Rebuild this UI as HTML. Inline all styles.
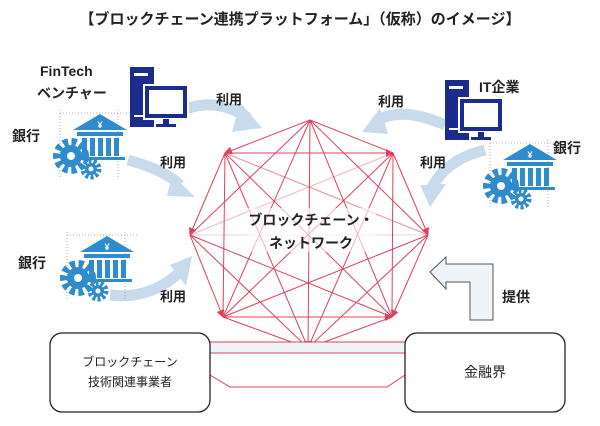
<!DOCTYPE html>
<html><head><meta charset="utf-8"><style>
body{margin:0;background:#fff;}
svg{display:block;font-family:"Liberation Sans","Noto Sans CJK JP",sans-serif;}
.b{font-weight:bold;fill:#222;}
</style></head><body>
<svg width="600" height="426" viewBox="0 0 600 426">
<defs>
<marker id="ah" markerWidth="8" markerHeight="8" refX="7" refY="4" orient="auto" markerUnits="userSpaceOnUse"><path d="M0,0 L8,4 L0,8 Z" fill="#e0405a"/></marker>
<g id="bank">
 <g stroke="#999" stroke-dasharray="1,2" stroke-width="0.8">
 <line x1="5" y1="-4" x2="5" y2="65"/><line x1="63" y1="-4" x2="63" y2="65"/><line x1="5" y1="-1" x2="75" y2="-1"/>
 </g>
 <path d="M18,16 L45,0 L72,16 Z" fill="#2f8ccc"/>
 <text x="45" y="14" font-size="9" fill="#fff" text-anchor="middle" font-weight="bold">¥</text>
 <rect x="22" y="18" width="46" height="4" fill="#2f8ccc"/>
 <rect x="27" y="24" width="5" height="18" fill="#2f8ccc"/><rect x="35" y="24" width="5" height="18" fill="#2f8ccc"/><rect x="43" y="24" width="5" height="18" fill="#2f8ccc"/><rect x="51" y="24" width="5" height="18" fill="#2f8ccc"/><rect x="59" y="24" width="5" height="18" fill="#2f8ccc"/>
 <rect x="20" y="43" width="50" height="3" fill="#2f8ccc"/>
 <circle cx="16" cy="42" r="14" fill="none" stroke="#2f8ccc" stroke-width="8" stroke-dasharray="5,3.3"/>
 <circle cx="16" cy="42" r="11" fill="#2f8ccc"/><circle cx="16" cy="42" r="4" fill="#fff"/>
 <circle cx="36" cy="55" r="8" fill="none" stroke="#2f8ccc" stroke-width="5" stroke-dasharray="3,2"/>
 <circle cx="36" cy="55" r="6" fill="#2f8ccc"/><circle cx="36" cy="55" r="2.5" fill="#fff"/>
</g>
<g id="pc">
 <rect x="0" y="0" width="24" height="60" fill="#1a2d8c"/>
 <rect x="4" y="6" width="14" height="3" fill="#fff"/>
 <rect x="4" y="48" width="10" height="2" fill="#fff"/>
 <rect x="14" y="18" width="44" height="34" fill="#1a2d8c" stroke="#fff" stroke-width="2"/>
 <rect x="19" y="23" width="34" height="24" fill="#fff"/>
 <rect x="33" y="52" width="6" height="5" fill="#1a2d8c"/><rect x="26" y="57" width="20" height="3" fill="#1a2d8c"/>
</g>
</defs>
<text x="300" y="24" text-anchor="middle" font-size="15" class="b">【ブロックチェーン連携プラットフォーム」（仮称）のイメージ】</text>

<g fill="none" stroke="#c8dbec" stroke-width="11" stroke-linecap="butt">
<path d="M178,112 Q215,95 248,118"/>
<path d="M128,160 Q165,170 180,185"/>
<path d="M110,295 Q150,300 180,272"/>
<path d="M445,125 Q400,105 375,122"/>
<path d="M485,150 Q445,160 432,188"/>
</g>
<g fill="#c8dbec">
<path d="M240,102 L262,128 L232,132 Z"/>
<path d="M172,175 L195,197 L167,196 Z"/>
<path d="M170,265 L192,256 L186,286 Z"/>
<path d="M380,108 L362,132 L388,134 Z"/>
<path d="M420,185 L430,207 L446,184 Z"/>
</g>

<use href="#pc" x="130" y="67"/>
<use href="#pc" x="445" y="80"/>
<use href="#bank" x="55" y="114"/>
<use href="#bank" x="62" y="236"/>
<use href="#bank" x="485" y="144"/>

<g stroke="#e0405a" stroke-width="1">
<line x1="310" y1="120" x2="225" y2="153" marker-end="url(#ah)"/><line x1="310" y1="120" x2="393" y2="153"/><line x1="310" y1="120" x2="190" y2="235"/><line x1="310" y1="120" x2="428" y2="235"/><line x1="310" y1="120" x2="223" y2="317"/><line x1="310" y1="120" x2="392" y2="317"/><line x1="310" y1="120" x2="308" y2="348" marker-end="url(#ah)"/>
<line x1="225" y1="153" x2="393" y2="153" marker-end="url(#ah)"/><line x1="225" y1="153" x2="190" y2="235" marker-end="url(#ah)"/><line x1="225" y1="153" x2="428" y2="235" stroke-opacity=".6"/><line x1="225" y1="153" x2="223" y2="317"/><line x1="225" y1="153" x2="392" y2="317"/><line x1="225" y1="153" x2="308" y2="348"/>
<line x1="393" y1="153" x2="190" y2="235" stroke-opacity=".4"/><line x1="393" y1="153" x2="428" y2="235" marker-end="url(#ah)"/><line x1="393" y1="153" x2="223" y2="317"/><line x1="393" y1="153" x2="392" y2="317"/><line x1="393" y1="153" x2="308" y2="348"/>
<line x1="190" y1="235" x2="428" y2="235" stroke-opacity=".25"/><line x1="190" y1="235" x2="223" y2="317" marker-end="url(#ah)"/><line x1="190" y1="235" x2="392" y2="317"/><line x1="190" y1="235" x2="308" y2="348"/>
<line x1="428" y1="235" x2="223" y2="317"/><line x1="428" y1="235" x2="392" y2="317" marker-end="url(#ah)"/><line x1="428" y1="235" x2="308" y2="348"/>
<line x1="223" y1="317" x2="392" y2="317" marker-end="url(#ah)"/><line x1="223" y1="317" x2="308" y2="348" marker-end="url(#ah)"/>
<line x1="392" y1="317" x2="308" y2="348" marker-end="url(#ah)"/>
</g>
<rect x="248" y="208" width="128" height="44" fill="#fff" fill-opacity=".6"/>
<text x="311" y="225" text-anchor="middle" font-size="14" class="b">ブロックチェーン・</text>
<text x="311" y="248" text-anchor="middle" font-size="14" class="b">ネットワーク</text>

<path d="M210,342 L405,342 L405,353 L210,353 Z" fill="#eef3f8" stroke="#e0405a" stroke-width="1"/>
<path d="M210,375 L230,387 L387,387 L405,375" fill="none" stroke="#e0405a" stroke-width="1"/>
<rect x="50" y="333" width="160" height="79" rx="12" fill="#fff" stroke="#222" stroke-width="1.3"/>
<rect x="405" y="333" width="160" height="79" rx="12" fill="#fff" stroke="#222" stroke-width="1.3"/>
<text x="130" y="366" text-anchor="middle" font-size="12" fill="#222">ブロックチェーン</text>
<text x="130" y="386" text-anchor="middle" font-size="12" fill="#222">技術関連事業者</text>
<text x="485" y="377" text-anchor="middle" font-size="14" fill="#222">金融界</text>

<path d="M430,272 L446,257 L446,264 L493,264 L493,320 L470,320 L470,282 L446,282 L446,289 Z" fill="#eef3f8" stroke="#555" stroke-width="1"/>

<g font-size="14" class="b">
<text x="40" y="76">FinTech</text>
<text x="37" y="98">ベンチャー</text>
<text x="12" y="141">銀行</text>
<text x="18" y="268">銀行</text>
<text x="553" y="153">銀行</text>
<text x="479" y="92">IT企業</text>
<text x="502" y="302">提供</text>
<text x="216" y="104" font-size="13">利用</text>
<text x="160" y="167" font-size="13">利用</text>
<text x="160" y="301" font-size="13">利用</text>
<text x="378" y="106" font-size="13">利用</text>
<text x="420" y="167" font-size="13">利用</text>
</g>
</svg>
</body></html>
